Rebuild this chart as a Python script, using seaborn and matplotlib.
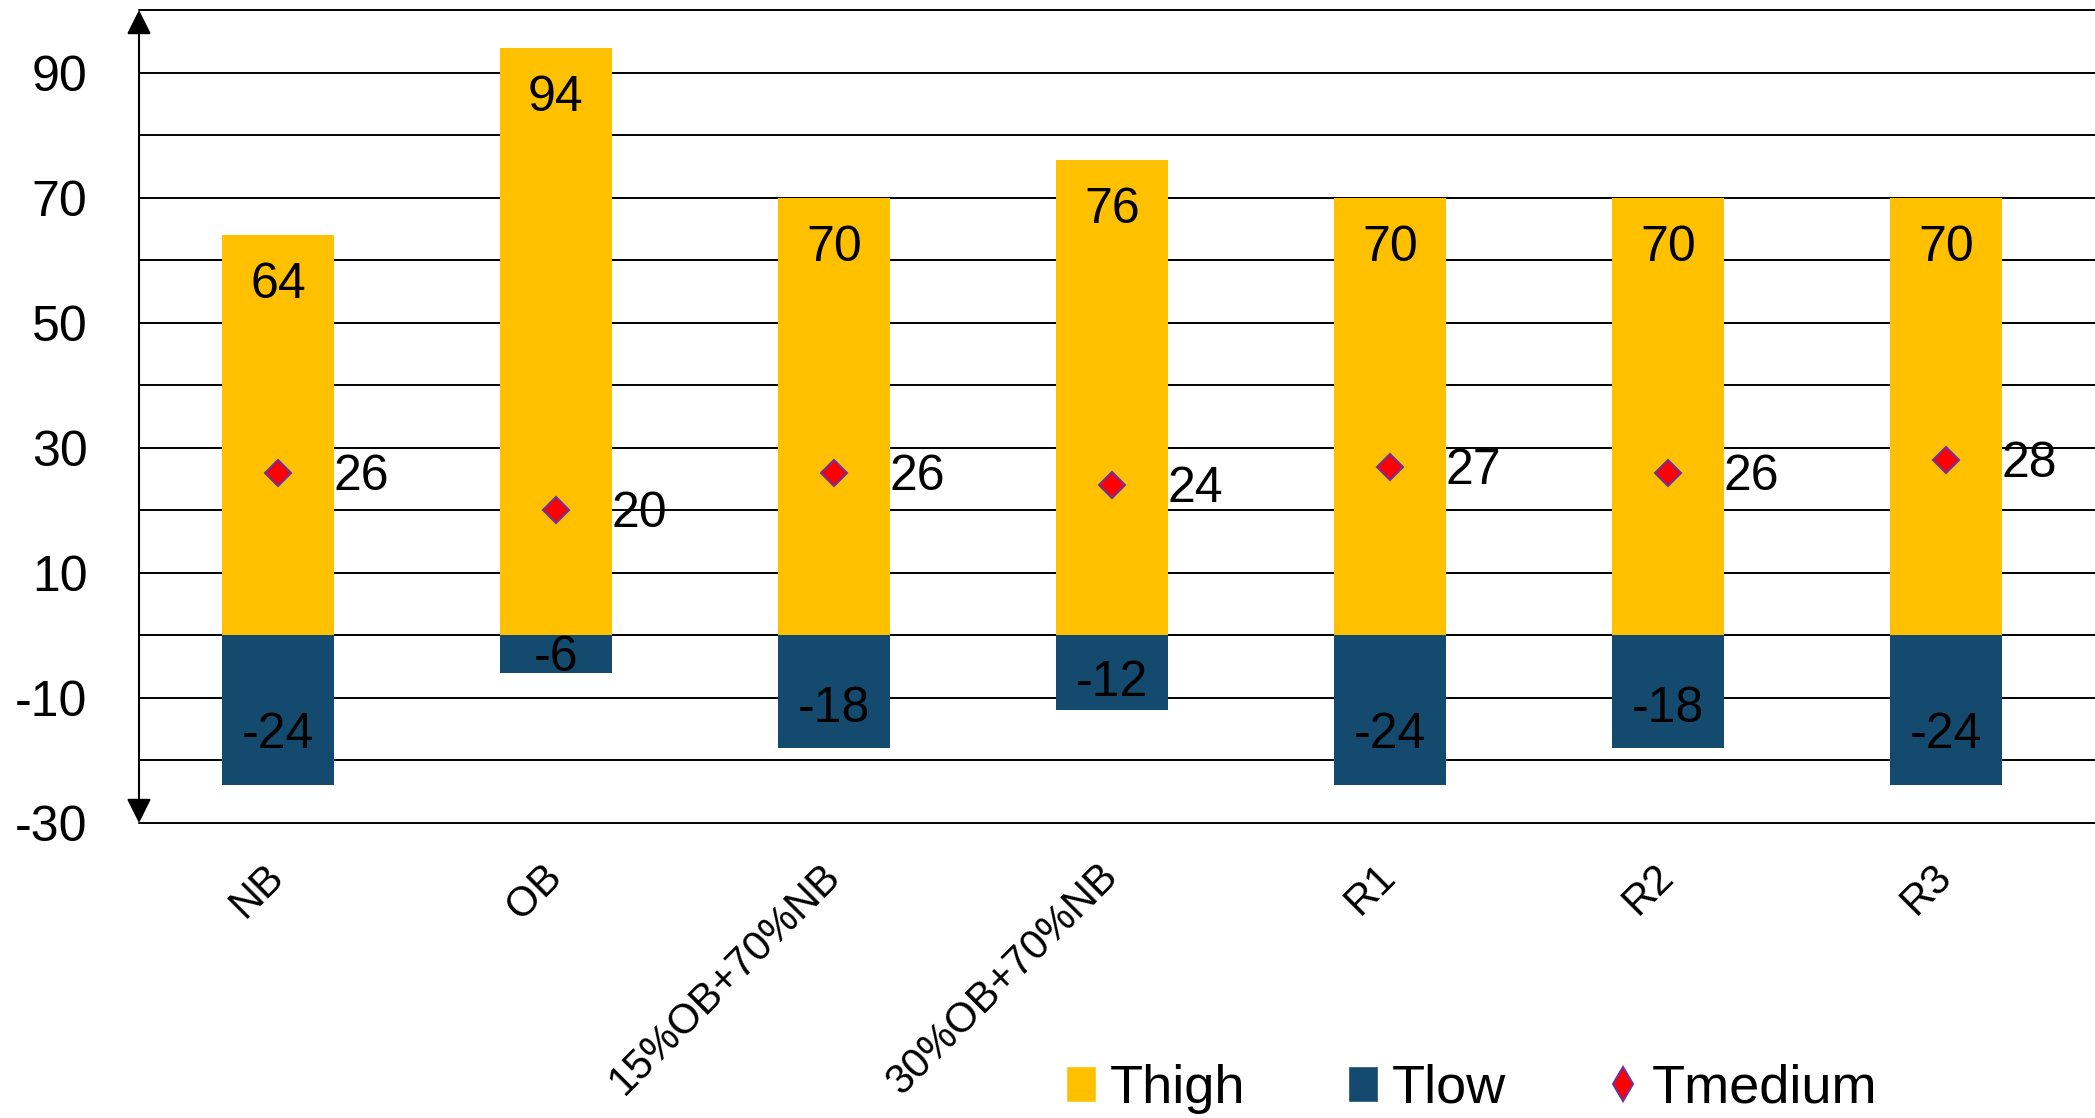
import matplotlib
matplotlib.use("Agg")
import matplotlib.pyplot as plt
import seaborn as sns
import pandas as pd
from matplotlib.lines import Line2D
from matplotlib.patches import Patch

# Data
categories = ["NB", "OB", "15%OB+70%NB", "30%OB+70%NB", "R1", "R2", "R3"]
t_high = [64, 94, 70, 76, 70, 70, 70]
t_low = [-24, -6, -18, -12, -24, -18, -24]
t_medium = [26, 20, 26, 24, 27, 26, 28]
y_ticks = [-30, -10, 10, 30, 50, 70, 90]

HIGH_COLOR = "#FFC000"
LOW_COLOR = "#134A6E"
MED_COLOR = "#FF0000"
MED_EDGE = "#7030A0"
FS = 36

sns.set_theme(style="white")
plt.rcParams["font.family"] = ["Liberation Sans", "DejaVu Sans"]
plt.rcParams["axes.unicode_minus"] = False
plt.rcParams["text.color"] = "black"
plt.rcParams["xtick.color"] = "black"
plt.rcParams["ytick.color"] = "black"

df = pd.DataFrame({"cat": categories, "high": t_high, "low": t_low, "medium": t_medium})

W, H = 2095, 1118
fig = plt.figure(figsize=(W / 100, H / 100), dpi=100)
ax = fig.add_axes([139 / W, 1 - 823 / H, 1 - 139 / W, (823 - 10) / H])

# horizontal rules every 10 units
for v in range(-30, 101, 10):
    ax.axhline(v, color="black", lw=1.4, zorder=0, clip_on=False)

sns.barplot(data=df, x="cat", y="high", color=HIGH_COLOR, width=0.4,
            saturation=1, linewidth=0, ax=ax, zorder=2)
sns.barplot(data=df, x="cat", y="low", color=LOW_COLOR, width=0.4,
            saturation=1, linewidth=0, ax=ax, zorder=2)
sns.pointplot(data=df, x="cat", y="medium", color=MED_COLOR, marker="D",
              markersize=13, linestyle="none", markeredgecolor=MED_EDGE,
              markeredgewidth=1.5, errorbar=None, ax=ax, zorder=4)

# value labels
for i, (h, lo, m) in enumerate(zip(t_high, t_low, t_medium)):
    ax.text(i, h - 8, f"{h}", ha="center", va="center", fontsize=FS,
            color="black", zorder=5)
    ax.text(i, 0.69 * lo + 0.6, f"{lo}", ha="center", va="center", fontsize=FS,
            color="black", zorder=5)
    ax.annotate(f"{m}", (i, m), xytext=(40, -3), textcoords="offset points",
                ha="left", va="center", fontsize=FS, color="black", zorder=5)

ax.set_ylim(-30, 100)
ax.set_xlim(-0.5, 6.5 + 10 / 278)
ax.set_yticks(y_ticks)
ax.set_xlabel("")
ax.set_ylabel("")
for s in ax.spines.values():
    s.set_visible(False)

ax.tick_params(axis="y", length=0, pad=37, labelsize=FS)
ax.tick_params(axis="x", length=0, pad=34, labelsize=30)
plt.setp(ax.get_xticklabels(), rotation=45, ha="right", va="center",
         rotation_mode="anchor")

# double-headed vertical axis
ax.annotate("", xy=(0, 1), xytext=(0, 0), xycoords="axes fraction",
            arrowprops=dict(arrowstyle="<|-|>,head_length=0.6,head_width=0.3",
                            color="black", lw=1.5, shrinkA=0, shrinkB=0,
                            mutation_scale=25),
            annotation_clip=False, zorder=6)

handles = [
    Patch(facecolor=HIGH_COLOR, label="Thigh"),
    Patch(facecolor=LOW_COLOR, label="Tlow"),
    Line2D([], [], marker="d", linestyle="none", markerfacecolor=MED_COLOR,
           markeredgecolor=MED_EDGE, markeredgewidth=1.5, markersize=17,
           label="Tmedium"),
]
fig.legend(handles=handles, loc="center", bbox_to_anchor=(0.7026, 0.026),
           ncol=3, frameon=False, fontsize=39, handlelength=0.55,
           handleheight=0.65, handletextpad=0.25, columnspacing=1.9)

fig.savefig("out.png", dpi=100)
